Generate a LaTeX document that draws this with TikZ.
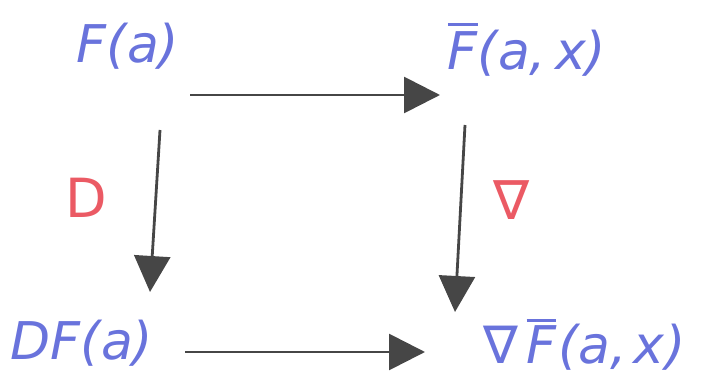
\documentclass[tikz,border=0pt]{standalone}
\usepackage{fontspec}
\setmainfont{DejaVu Sans}
\usetikzlibrary{arrows.meta,calc}
\definecolor{inkblue}{RGB}{105,115,220}
\definecolor{inkred}{RGB}{235,90,100}
\definecolor{inkgray}{RGB}{70,70,70}
\newcommand\myoverF[1]{\leavevmode\vbox{\hrule height 2.5pt \kern #1\hbox{F}}}
\begin{document}
\begin{tikzpicture}[x=1pt,y=-1pt,
  lbl/.style={inner sep=0pt,text=inkblue,font=\fontsize{52}{60}\selectfont\itshape},
  oplbl/.style={inner sep=0pt,text=inkred,font=\fontsize{54}{64}\selectfont},
  arr/.style={draw=inkgray,line width=2.8pt,-{Triangle[length=36pt,width=36pt]}}]
\useasboundingbox (0,0) rectangle (709,382);
\node[lbl] (fa) at (128,46) {F(a)};
\node[lbl] (fb) at (527,50) {\myoverF{6pt}(a,\,x)};
\node[lbl] (dfa) at (82,343) {DF(a)};
\node[lbl] (nfb) at (585,345) {{\upshape∇}\kern8pt\myoverF{4pt}\kern2pt(a,\kern6pt x\kern2pt)};
\node[oplbl] (dlab) at (86,198) {D};
\node[oplbl] (nlab) at (512,200) {∇};
\draw[arr] ($(fa)+(62,49)$) -- ($(fb)+(-87,45)$);
\draw[arr] ($(fa)+(32,84)$) -- ($(dfa)+(68,-51)$);
\draw[arr] ($(fb)+(-62,75)$) -- ($(nfb)+(-130,-33)$);
\draw[arr] ($(dfa)+(103,9)$) -- ($(nfb)+(-160,7)$);
\end{tikzpicture}
\end{document}
